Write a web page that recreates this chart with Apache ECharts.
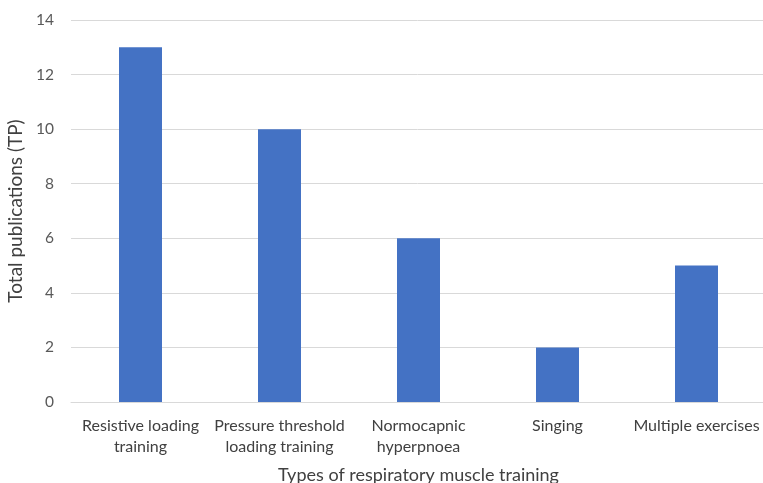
<!DOCTYPE html>
<html>
<head>
<meta charset="utf-8">
<script src="https://cdn.jsdelivr.net/npm/echarts@6/dist/echarts.min.js"></script>
<style>
  html, body { margin: 0; padding: 0; background: #fff; }
  #chart { width: 763px; height: 483px; }
</style>
</head>
<body>
<div id="chart"></div>
<script>
// Publication counts by type of respiratory muscle training
const categories = [
  'Resistive loading\ntraining',
  'Pressure threshold\nloading training',
  'Normocapnic\nhyperpnoea',
  'Singing',
  'Multiple exercises'
];
const totalPublications = [13, 10, 6, 2, 5];
const yTicks = { min: 0, max: 14, interval: 2 };

const font = 'Lato, "Open Sans", sans-serif';
const chart = echarts.init(document.getElementById('chart'));
chart.setOption({
  animation: false,
  grid: {
    left: 71, top: 20, width: 695, bottom: 81,
    containLabel: false, outerBoundsMode: 'none'
  },
  xAxis: {
    type: 'category',
    data: categories,
    name: 'Types of respiratory muscle training',
    nameLocation: 'middle',
    nameGap: 64,
    nameTextStyle: { fontFamily: font, fontSize: 18, color: '#404040' },
    axisLine: { show: true, lineStyle: { color: '#d9d9d9', width: 1 } },
    axisTick: { show: false },
    axisLabel: {
      interval: 0, margin: 13, fontFamily: font, fontSize: 16,
      color: '#404040', lineHeight: 21
    }
  },
  yAxis: {
    type: 'value',
    min: yTicks.min, max: yTicks.max, interval: yTicks.interval,
    name: 'Total publications (TP)',
    nameLocation: 'middle',
    nameGap: 32,
    nameTextStyle: { fontFamily: font, fontSize: 19, color: '#404040' },
    axisLine: { show: false },
    axisTick: { show: false },
    axisLabel: { margin: 17, fontFamily: font, fontSize: 15.5, color: '#595959' },
    splitLine: { lineStyle: { color: '#d9d9d9', width: 1 } }
  },
  series: [{
    type: 'bar',
    data: totalPublications,
    barWidth: 43,
    itemStyle: { color: '#4472C4' }
  }]
});
</script>
</body>
</html>
